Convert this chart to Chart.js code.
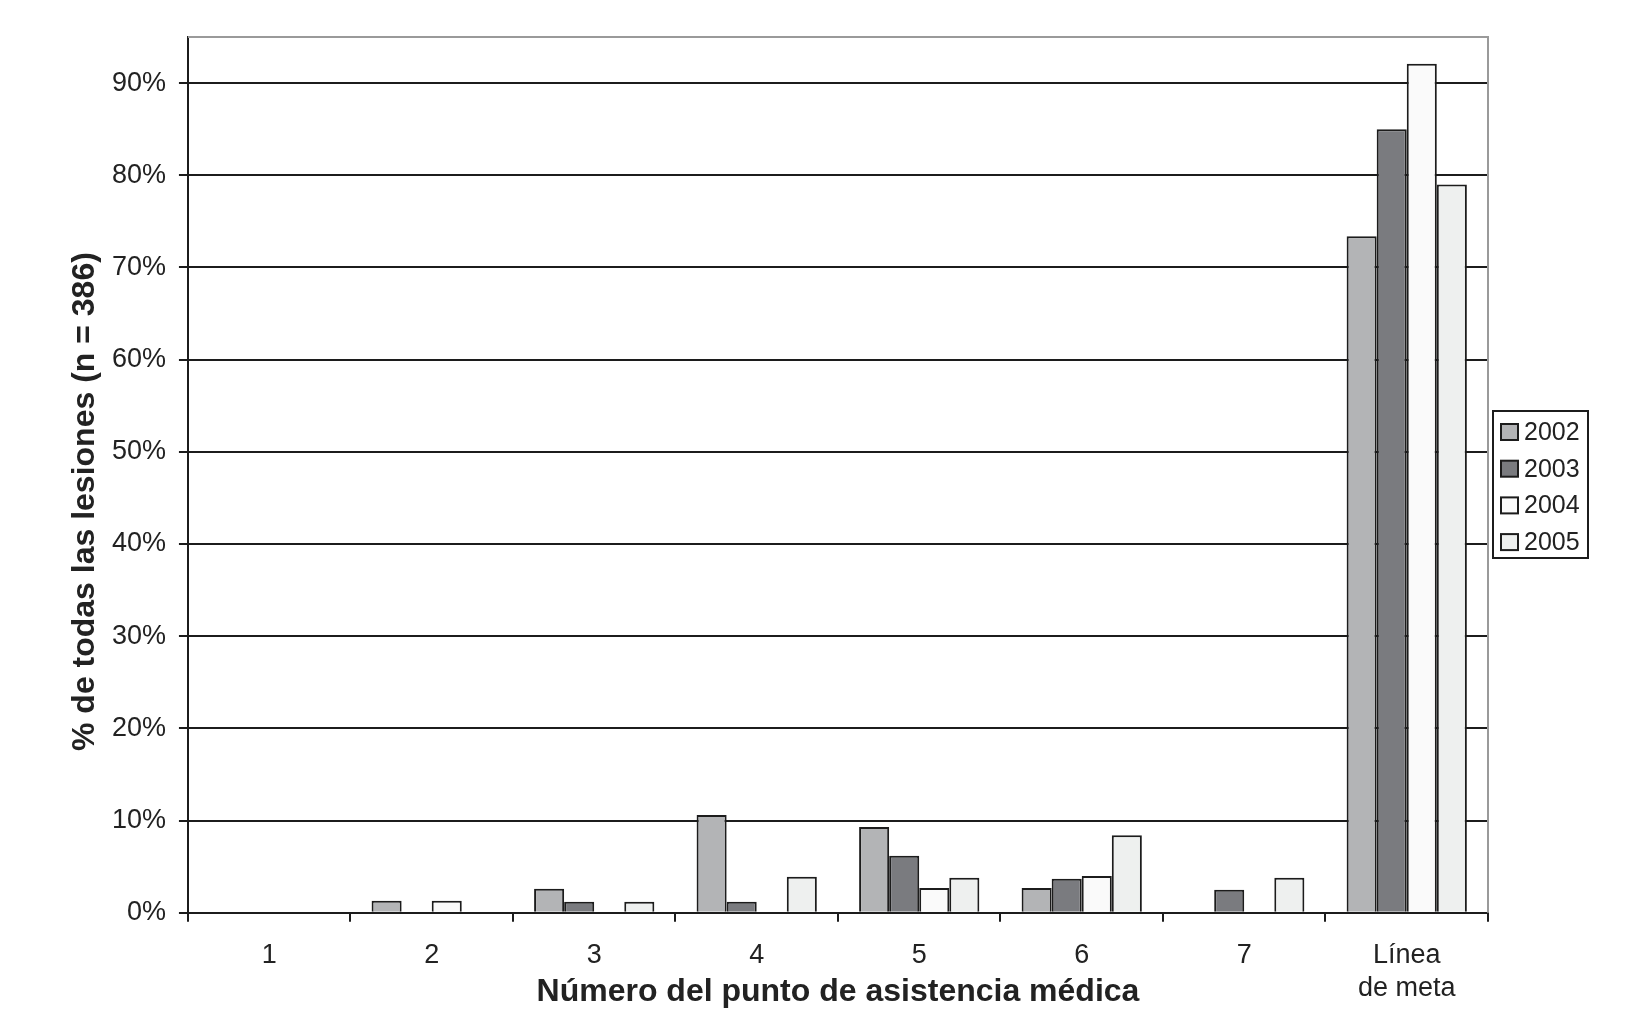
<!DOCTYPE html>
<html>
<head>
<meta charset="utf-8">
<script src="https://cdn.jsdelivr.net/npm/chart.js@4.4.1/dist/chart.umd.min.js"></script>
<style>
  html, body { margin: 0; padding: 0; background: #fff; }
  #wrap { width: 1629px; height: 1033px; }
</style>
</head>
<body>
<div id="wrap"><canvas id="chart" width="1629" height="1033"></canvas></div>
<script>
// Datos
const categorias = ['1', '2', '3', '4', '5', '6', '7', ['Línea', 'de meta']];
const anios = ['2002', '2003', '2004', '2005'];
const v2002 = [null, 1.3, 2.6, 10.6, 9.3, 2.7, null, 73.4];
const v2003 = [null, null, 1.2, 1.2, 6.2, 3.7, 2.5, 85.0];
const v2004 = [null, 1.3, null, null, 2.7, 4.0, null, 92.1];
const v2005 = [null, null, 1.2, 3.9, 3.8, 8.4, 3.8, 79.0];
const ticksY = [0, 10, 20, 30, 40, 50, 60, 70, 80, 90];

const colores = ['#b3b4b6', '#7a7b7f', '#fafafa', '#eef0ef'];
const fuente = "'Liberation Sans', Arial, Helvetica, sans-serif";
const negro = '#1c1c1c';

// Marco gris arriba y a la derecha + leyenda con borde a la derecha
const marco = {
  id: 'marco',
  beforeDatasetsDraw(chart) {
    const { ctx, chartArea: a } = chart;
    ctx.save();
    ctx.strokeStyle = '#9a9a9a';
    ctx.lineWidth = 2;
    ctx.beginPath();
    ctx.moveTo(a.left, a.top);
    ctx.lineTo(a.right, a.top);
    ctx.lineTo(a.right, a.bottom);
    ctx.stroke();
    ctx.restore();
  },
  afterDraw(chart) {
    const ctx = chart.ctx;
    const x0 = 1493, y0 = 411, w = 95, h = 147;
    ctx.save();
    ctx.fillStyle = '#fff';
    ctx.fillRect(x0, y0, w, h);
    ctx.strokeStyle = negro;
    ctx.lineWidth = 2;
    ctx.strokeRect(x0, y0, w, h);
    ctx.font = '25px ' + fuente;
    ctx.textBaseline = 'middle';
    chart.data.datasets.forEach((ds, i) => {
      const cy = y0 + 21 + i * 36.7;
      ctx.fillStyle = ds.backgroundColor;
      ctx.fillRect(x0 + 8, cy - 8, 17, 16);
      ctx.strokeStyle = negro;
      ctx.lineWidth = 2;
      ctx.strokeRect(x0 + 8, cy - 8, 17, 16);
      ctx.fillStyle = '#222';
      ctx.fillText(ds.label, x0 + 31, cy + 1);
    });
    ctx.restore();
  }
};

const series = [v2002, v2003, v2004, v2005];

new Chart(document.getElementById('chart'), {
  type: 'bar',
  data: {
    labels: categorias,
    datasets: anios.map((a, i) => ({
      label: a,
      data: series[i],
      backgroundColor: colores[i],
      borderColor: negro,
      borderWidth: 2,
      borderSkipped: 'bottom',
      categoryPercentage: 0.74,
      barPercentage: 1.0
    }))
  },
  options: {
    responsive: false,
    animation: false,
    layout: { padding: { top: 37, right: 141, bottom: 22, left: 54 } },
    plugins: {
      legend: { display: false },
      tooltip: { enabled: false }
    },
    scales: {
      x: {
        grid: {
          offset: true,
          drawOnChartArea: false,
          color: negro,
          lineWidth: 2,
          tickLength: 9
        },
        border: { color: negro, width: 2 },
        ticks: {
          font: { family: fuente, size: 27 },
          color: '#222',
          padding: 18,
          maxRotation: 0
        },
        title: {
          display: true,
          text: 'Número del punto de asistencia médica',
          font: { family: fuente, size: 32, weight: 'bold' },
          color: '#222',
          padding: { top: -50, bottom: 0 }
        }
      },
      y: {
        min: 0,
        max: 95,
        afterBuildTicks(axis) {
          axis.ticks = ticksY.map(v => ({ value: v }));
        },
        grid: {
          color: negro,
          lineWidth: 2,
          tickLength: 9
        },
        border: { color: negro, width: 2 },
        ticks: {
          font: { family: fuente, size: 27 },
          color: '#222',
          padding: 13,
          callback: v => v + '%'
        },
        title: {
          display: true,
          // espacios finales: el título queda algo más abajo, como en el original
          text: '% de todas las lesiones (n = 386)\u00a0\u00a0\u00a0\u00a0\u00a0\u00a0',
          font: { family: fuente, size: 32, weight: 'bold' },
          color: '#222',
          padding: { top: 12, bottom: -5.5 }
        }
      }
    }
  },
  plugins: [marco]
});
</script>
</body>
</html>
